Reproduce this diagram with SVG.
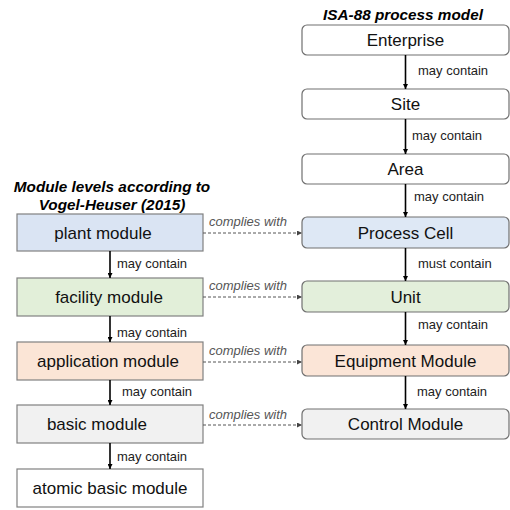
<svg xmlns="http://www.w3.org/2000/svg" width="510" height="510" viewBox="0 0 510 510">
<defs>
<marker id="ah" viewBox="0 0 10 10" refX="10" refY="5" markerWidth="5" markerHeight="5" orient="auto" markerUnits="userSpaceOnUse"><path d="M0,0 L10,5 L0,10 z" fill="#000"/></marker>
<marker id="ahd" viewBox="0 0 10 10" refX="10" refY="5" markerWidth="5" markerHeight="5" orient="auto" markerUnits="userSpaceOnUse"><path d="M0,0 L10,5 L0,10 z" fill="#444"/></marker>
</defs>
<style>
text{font-family:"Liberation Sans",Arial,sans-serif;}
.title{font-size:15.3px;font-weight:bold;font-style:italic;fill:#000;text-anchor:middle;}
.lbl{font-size:17px;fill:#111;text-anchor:middle;}
.rel{font-size:13px;fill:#222;}
.cw{font-size:13px;font-style:italic;fill:#555;}
.rbox{stroke:#707070;stroke-width:1.2;}
.lbox{stroke:#808080;stroke-width:1.2;}
.arr{stroke:#000;stroke-width:1.6;fill:none;marker-end:url(#ah);}
.dash{stroke:#555;stroke-width:1;stroke-dasharray:3,2;fill:none;marker-end:url(#ahd);}
</style>
<text class="title" x="403" y="20">ISA-88 process model</text>
<text class="title" x="112" y="192">Module levels according to</text>
<text class="title" x="112" y="210">Vogel-Heuser (2015)</text>

<g id="enterprise"><rect class="rbox" x="302" y="25" width="207" height="30" rx="5" fill="#fff"/><text class="lbl" x="405.5" y="46">Enterprise</text></g>
<g id="site"><rect class="rbox" x="302" y="89" width="207" height="30" rx="5" fill="#fff"/><text class="lbl" x="405.5" y="110">Site</text></g>
<g id="area"><rect class="rbox" x="302" y="154" width="207" height="30" rx="5" fill="#fff"/><text class="lbl" x="405.5" y="175">Area</text></g>
<g id="processcell"><rect class="rbox" x="302" y="217" width="207" height="31" rx="5" fill="#dee8f5"/><text class="lbl" x="405.5" y="239">Process Cell</text></g>
<g id="unit"><rect class="rbox" x="302" y="281" width="207" height="31" rx="5" fill="#e3efdb"/><text class="lbl" x="405.5" y="303">Unit</text></g>
<g id="equipmentmodule"><rect class="rbox" x="302" y="345" width="207" height="31" rx="5" fill="#fbe5d7"/><text class="lbl" x="405.5" y="367">Equipment Module</text></g>
<g id="controlmodule"><rect class="rbox" x="302" y="409" width="207" height="30" rx="5" fill="#f1f1f1"/><text class="lbl" x="405.5" y="430">Control Module</text></g>

<g id="plantmodule"><rect class="lbox" x="17" y="214" width="186" height="37" fill="#dae4f3"/><text class="lbl" x="103" y="239">plant module</text></g>
<g id="facilitymodule"><rect class="lbox" x="17" y="278" width="186" height="38" fill="#e2efd9"/><text class="lbl" x="109" y="303">facility module</text></g>
<g id="applicationmodule"><rect class="lbox" x="17" y="342" width="186" height="38" fill="#fbe5d6"/><text class="lbl" x="108" y="367">application module</text></g>
<g id="basicmodule"><rect class="lbox" x="17" y="405" width="186" height="38" fill="#f1f1f1"/><text class="lbl" x="97" y="430">basic module</text></g>
<g id="atomicbasicmodule"><rect class="lbox" x="17" y="469" width="186" height="38" fill="#fff"/><text class="lbl" x="110" y="494">atomic basic module</text></g>

<g id="connectors">
<line class="arr" x1="405.5" y1="55" x2="405.5" y2="89"/>
<line class="arr" x1="405.5" y1="119" x2="405.5" y2="154"/>
<line class="arr" x1="405.5" y1="184" x2="405.5" y2="217"/>
<line class="arr" x1="405.5" y1="248" x2="405.5" y2="281"/>
<line class="arr" x1="405.5" y1="312" x2="405.5" y2="345"/>
<line class="arr" x1="405.5" y1="376" x2="405.5" y2="409"/>
<text class="rel" x="418" y="75">may contain</text>
<text class="rel" x="412" y="140">may contain</text>
<text class="rel" x="414" y="201">may contain</text>
<text class="rel" x="418" y="268">must contain</text>
<text class="rel" x="418" y="329">may contain</text>
<text class="rel" x="417" y="396">may contain</text>

<line class="arr" x1="110" y1="251" x2="110" y2="278"/>
<line class="arr" x1="110" y1="316" x2="110" y2="342"/>
<line class="arr" x1="110" y1="380" x2="110" y2="405"/>
<line class="arr" x1="110" y1="443" x2="110" y2="469"/>
<text class="rel" x="117" y="268">may contain</text>
<text class="rel" x="117" y="337">may contain</text>
<text class="rel" x="122" y="396">may contain</text>
<text class="rel" x="117" y="461">may contain</text>

<line class="dash" x1="203" y1="233" x2="302" y2="233"/>
<line class="dash" x1="203" y1="297" x2="302" y2="297"/>
<line class="dash" x1="203" y1="362" x2="302" y2="362"/>
<line class="dash" x1="203" y1="425" x2="302" y2="425"/>
<text class="cw" x="209" y="226">complies with</text>
<text class="cw" x="209" y="290">complies with</text>
<text class="cw" x="209" y="355">complies with</text>
<text class="cw" x="209" y="419">complies with</text>
</g>
</svg>
